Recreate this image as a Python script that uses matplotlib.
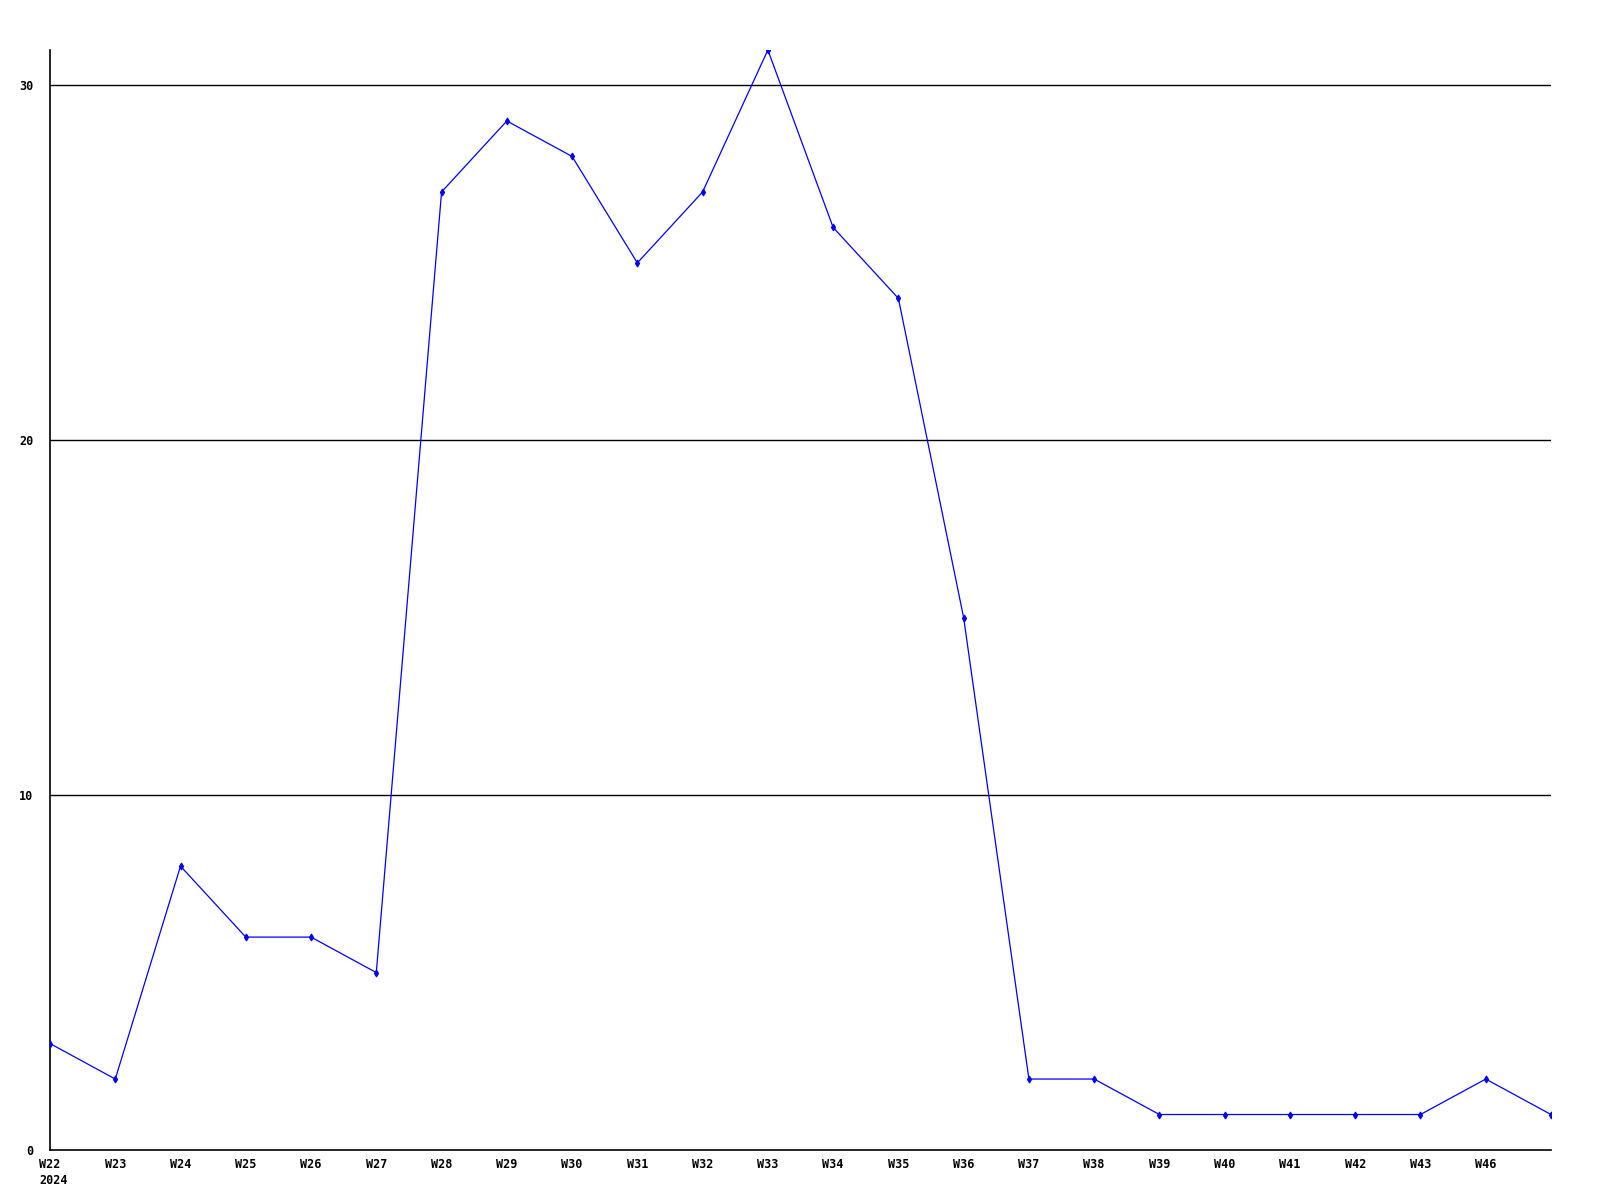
import matplotlib
matplotlib.use("Agg")
import matplotlib.pyplot as plt

weeks = ["W22", "W23", "W24", "W25", "W26", "W27", "W28", "W29", "W30", "W31",
         "W32", "W33", "W34", "W35", "W36", "W37", "W38", "W39", "W40", "W41",
         "W42", "W43", "W46", ""]
values = [3, 2, 8, 6, 6, 5, 27, 29, 28, 25, 27, 31, 26, 24, 15, 2, 2, 1, 1, 1, 1, 1, 2, 1]
year_label = "2024"
y_ticks = [0, 10, 20, 30]

fig = plt.figure(figsize=(16, 12), dpi=100)
ax = fig.add_axes([50/1600, 1 - 1150/1200, 1501/1600, 1100/1200])
x = list(range(len(values)))
for yt in y_ticks[1:]:
    ax.axhline(yt, color="black", linewidth=1, zorder=1)
ax.plot(x, values, color="#0000ff", linewidth=0.9, marker="d", markersize=3.5,
        markeredgewidth=0.8, zorder=3)
ax.set_xlim(0, len(values) - 1)
ax.set_ylim(0, 31)
for s in ["top", "right"]:
    ax.spines[s].set_visible(False)
for s in ["left", "bottom"]:
    ax.spines[s].set_linewidth(1.2)
    ax.spines[s].set_color("black")
font = dict(family="DejaVu Sans Mono", weight="bold", size=8.5)
ax.set_xticks(x)
ax.set_xticklabels(weeks, fontdict=font, va="top")
ax.annotate(year_label, xy=(0, 0), xycoords=("data", "axes fraction"),
            xytext=(2.5, -17), textcoords="offset points",
            ha="center", va="top", **font)
ax.set_yticks(y_ticks)
ax.set_yticklabels([str(v) for v in y_ticks], fontdict=font)
ax.tick_params(axis="both", length=0)
ax.tick_params(axis="y", pad=12)
ax.tick_params(axis="x", pad=6)
fig.savefig("out.png", dpi=100, facecolor="white")
